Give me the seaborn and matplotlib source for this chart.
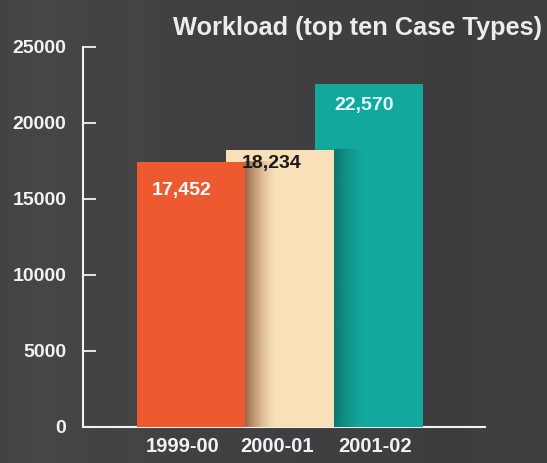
import numpy as np
import pandas as pd
import matplotlib
matplotlib.use("Agg")
import matplotlib.pyplot as plt
import seaborn as sns
from matplotlib.colors import to_rgb

# ---- data ----
years = ["1999-00", "2000-01", "2001-02"]
workload = [17452, 18234, 22570]
value_labels = ["17,452", "18,234", "22,570"]
yticks = [0, 5000, 10000, 15000, 20000, 25000]
title = "Workload (top ten Case Types)"

# ---- style ----
bar_colors = ["#ee5a30", "#f9e0b8", "#13a89d"]
label_colors = ["white", "#1a1a1a", "#e6fbff"]
label_dx = [-0.10, -0.10, -0.06]
label_dy = [1900, 900, 1450]
xlabel_dx = [-0.09, -0.03, 0.07]
bg = "#403f41"
fg = "#f2f2f2"

sns.set_theme(style="white")
plt.rcParams["font.family"] = ["Liberation Sans", "DejaVu Sans"]

df = pd.DataFrame({"year": years, "workload": workload})

fig = plt.figure(figsize=(5.47, 4.63), dpi=100)
fig.patch.set_facecolor(bg)

# background gradient
bgax = fig.add_axes([0, 0, 1, 1], zorder=-10)
xs = np.linspace(0, 1, 300)
base = np.array(to_rgb(bg))
shade = 1 + 0.10 * np.exp(-((xs - 0.08) / 0.1) ** 2) + 0.06 * np.exp(-((xs - 0.25) / 0.05) ** 2) \
        - 0.06 * np.exp(-((xs - 0.82) / 0.06) ** 2)
img = np.clip(base[None, None, :] * shade[None, :, None], 0, 1)
bgax.imshow(img, aspect="auto", extent=[0, 1, 0, 1])
bgax.set_axis_off()

ax = fig.add_axes([0.152, 0.0778, 0.735, 0.8207])
ax.patch.set_alpha(0)

sns.barplot(data=df, x="year", y="workload", hue="year", palette=bar_colors,
            width=1.21, saturation=1, legend=False, ax=ax, linewidth=0)

patches = list(ax.patches)
for i, p in enumerate(patches):
    p.set_zorder(3 - 0.5 * i)

# soft shadows cast by a front bar onto the bar behind it
shadow_cols = [to_rgb("#7a4020"), to_rgb("#04504a")]
shadow_alpha = [0.75, 0.55]
for i in range(len(patches) - 1):
    front, back = patches[i], patches[i + 1]
    x0 = front.get_x() + front.get_width()
    grad = np.zeros((2, 100, 4))
    grad[..., :3] = shadow_cols[i]
    grad[..., 3] = shadow_alpha[i] * np.linspace(1, 0, 100)[None, :] ** 1.5
    im = ax.imshow(grad, aspect="auto", extent=[x0, x0 + 0.35, 0, front.get_height()],
                   zorder=back.get_zorder() + 0.01, interpolation="bilinear")
    im.set_clip_path(back)

for i, (v, s) in enumerate(zip(workload, value_labels)):
    ax.text(i + label_dx[i], v - label_dy[i], s, ha="center", va="center",
            color=label_colors[i], fontsize=14, fontweight="bold", zorder=10)

ax.set_xlim(-1.21, 3.30)
ax.set_ylim(0, 25000)
ax.set_yticks(yticks)
ax.set_yticklabels([str(t) for t in yticks])
ax.set_xticks([i + d for i, d in enumerate(xlabel_dx)])
ax.set_xticklabels(years)
ax.set_xlabel("")
ax.set_ylabel("")

for side in ["top", "right"]:
    ax.spines[side].set_visible(False)
for side in ["left", "bottom"]:
    ax.spines[side].set_color(fg)
    ax.spines[side].set_linewidth(1.5)
    ax.spines[side].set_zorder(1)

ax.tick_params(axis="y", direction="in", length=9, width=1.3, color=fg,
               labelcolor=fg, labelsize=14, pad=12, left=True)
ax.tick_params(axis="x", length=0, labelcolor=fg, labelsize=14.5, pad=7)
for lab in ax.get_yticklabels() + ax.get_xticklabels():
    lab.set_fontweight("bold")

fig.text(0.99, 0.94, title, ha="right", va="center", color="#ececec",
         fontsize=18.3, fontweight="bold")

fig.savefig("out.png", dpi=100, facecolor=fig.get_facecolor())
